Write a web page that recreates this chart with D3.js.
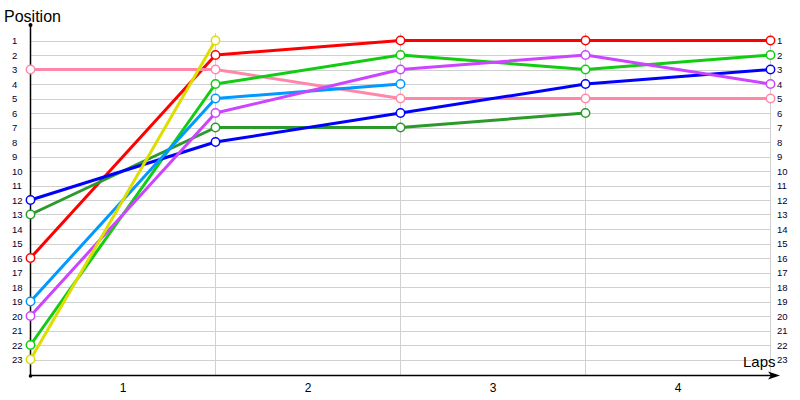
<!DOCTYPE html>
<html>
<head>
<meta charset="utf-8">
<script src="https://cdn.jsdelivr.net/npm/d3@7"></script>
<style>
body { margin: 0; background: #fff; }
svg { display: block; font-family: "Liberation Sans", Arial, sans-serif; }
</style>
</head>
<body>
<svg id="chart" width="800" height="400"></svg>
<script>
// positions per lap (lap 0 = start)
var lapLabels = ["1", "2", "3", "4"];
var positions = d3.range(1, 24);

var red = [16, 2, 1, 1, 1];
var pink = [3, 3, 5, 5, 5];
var green = [22, 4, 2, 3, 2];
var darkGreen = [13, 7, 7, 6];
var blue = [12, 8, 6, 4, 3];
var lightBlue = [19, 5, 4];
var purple = [20, 6, 3, 2, 4];
var yellow = [23, 1];

var series = [
  {name: "red", color: "#ff0000", values: red},
  {name: "pink", color: "#ff88aa", values: pink},
  {name: "green", color: "#11cc11", values: green},
  {name: "darkGreen", color: "#2a9a2a", values: darkGreen},
  {name: "blue", color: "#0000ff", values: blue},
  {name: "lightBlue", color: "#0099ff", values: lightBlue},
  {name: "purple", color: "#cc44ff", values: purple},
  {name: "yellow", color: "#dddd00", values: yellow}
];

var svg = d3.select("#chart");
var x = d3.scaleLinear().domain([0, 4]).range([30.5, 770.5]);
var y = d3.scaleLinear().domain([0, 24]).range([26, 374]);

// grid
svg.append("g").selectAll("line.h")
    .data(positions)
  .enter().append("line")
    .attr("x1", x(0)).attr("x2", x(4))
    .attr("y1", function(d) { return Math.round(y(d)) + 0.5; })
    .attr("y2", function(d) { return Math.round(y(d)) + 0.5; })
    .attr("stroke", "#d0d0d0").attr("stroke-width", 1);

svg.append("g").selectAll("line.v")
    .data([1, 2, 3, 4])
  .enter().append("line")
    .attr("x1", function(d) { return x(d); }).attr("x2", function(d) { return x(d); })
    .attr("y1", 33).attr("y2", 375)
    .attr("stroke", "#d0d0d0").attr("stroke-width", 1);

// tick labels
svg.append("g").selectAll("text")
    .data(positions)
  .enter().append("text")
    .attr("x", 12)
    .attr("y", function(d) { return y(d) + 3.5; })
    .attr("font-size", 9.5).attr("fill", "#000033")
    .text(function(d) { return d; });

svg.append("g").selectAll("text")
    .data(positions)
  .enter().append("text")
    .attr("x", 777)
    .attr("y", function(d) { return y(d) + 3.5; })
    .attr("font-size", 9.5).attr("fill", "#000033")
    .text(function(d) { return d; });

svg.append("g").selectAll("text")
    .data(lapLabels)
  .enter().append("text")
    .attr("x", function(d, i) { return x(i + 0.5); })
    .attr("y", 392)
    .attr("text-anchor", "middle")
    .attr("font-size", 12).attr("fill", "#000")
    .text(function(d) { return d; });

// axes
svg.append("line").attr("x1", 30.5).attr("x2", 30.5).attr("y1", 25).attr("y2", 375.5)
    .attr("stroke", "#000").attr("stroke-width", 1.5);
svg.append("line").attr("x1", 30).attr("x2", 772).attr("y1", 375.5).attr("y2", 375.5)
    .attr("stroke", "#000").attr("stroke-width", 1.5);
svg.append("path").attr("d", "M780,375.5 L768,371.5 L771,375.5 L768,379.5 Z").attr("fill", "#000");
svg.append("circle").attr("cx", 30.5).attr("cy", 25).attr("r", 2).attr("fill", "#000");
svg.append("circle").attr("cx", 30.5).attr("cy", 376).attr("r", 1.8).attr("fill", "#000");

svg.append("text").attr("x", 4).attr("y", 22).attr("font-size", 16).attr("fill", "#000").text("Position");
svg.append("text").attr("x", 743).attr("y", 367).attr("font-size", 15).attr("fill", "#000").text("Laps");

// series lines
var line = d3.line()
    .x(function(d, i) { return x(i); })
    .y(function(d) { return y(d); });

var g = svg.append("g");
series.forEach(function(s) {
  g.append("path")
      .attr("d", line(s.values))
      .attr("fill", "none")
      .attr("stroke", s.color)
      .attr("stroke-width", 3)
      .attr("stroke-linejoin", "round");
});
series.forEach(function(s) {
  g.selectAll(null)
      .data(s.values)
    .enter().append("circle")
      .attr("cx", function(d, i) { return x(i); })
      .attr("cy", function(d) { return y(d); })
      .attr("r", 4.2)
      .attr("fill", "#fff")
      .attr("stroke", s.color)
      .attr("stroke-width", 1.5);
});
</script>
</body>
</html>
